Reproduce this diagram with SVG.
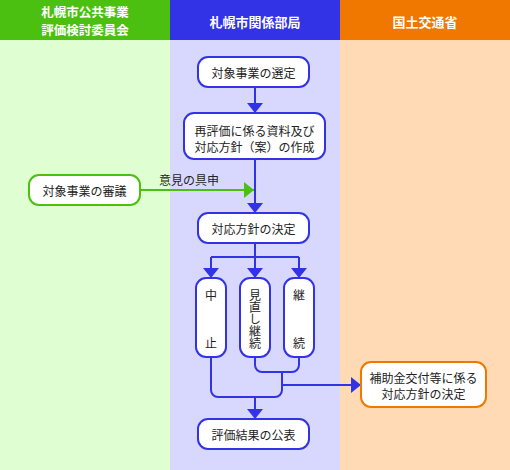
<svg xmlns="http://www.w3.org/2000/svg" width="510" height="470" viewBox="0 0 510 470">
<style>
text{font-family:"Noto Sans CJK JP","Noto Sans",sans-serif;font-size:12px;fill:#222;text-anchor:middle;dominant-baseline:central}
.hd{fill:#fff;font-size:13px;font-weight:bold}
.h2{font-size:12.5px}
.vt{writing-mode:vertical-rl;text-anchor:start}
.sp{letter-spacing:36px}
.bb{fill:#fff;stroke:#3232e6;stroke-width:2}
.gb{fill:#fff;stroke:#4cc010;stroke-width:2}
.ob{fill:#fff;stroke:#f07800;stroke-width:2}
.bl{fill:none;stroke:#3232e6;stroke-width:2}
.gl{fill:none;stroke:#4cc010;stroke-width:2}
</style>
<defs>
<marker id="ab" markerUnits="userSpaceOnUse" markerWidth="10" markerHeight="16" refX="10" refY="8" orient="auto"><path d="M0,0 L10,8 L0,16 z" fill="#3232e6"/></marker>
<marker id="ag" markerUnits="userSpaceOnUse" markerWidth="10" markerHeight="16" refX="10" refY="8" orient="auto"><path d="M0,0 L10,8 L0,16 z" fill="#4cc010"/></marker>
</defs>
<g id="lanes">
<rect x="0" y="40" width="170" height="430" fill="#dfffd2"/>
<rect x="170" y="40" width="170" height="430" fill="#d8d8ff"/>
<rect x="340" y="40" width="170" height="430" fill="#ffdab4"/>
<rect x="0" y="0" width="170" height="40" fill="#4cc010"/>
<rect x="170" y="0" width="170" height="40" fill="#3232e6"/>
<rect x="340" y="0" width="170" height="40" fill="#f07800"/>
<text class="hd h2" x="85" y="11">札幌市公共事業</text>
<text class="hd h2" x="85" y="29.3">評価検討委員会</text>
<text class="hd" x="255" y="21">札幌市関係部局</text>
<text class="hd" x="425" y="21">国土交通省</text>
</g>
<g id="connectors">
<path class="bl" d="M255,87 V113" marker-end="url(#ab)"/>
<path class="bl" d="M255,159 V213" marker-end="url(#ab)"/>
<path class="gl" d="M140,190 H254" marker-end="url(#ag)"/>
<text x="189" y="179">意見の具申</text>
<path class="bl" d="M255,243 V257 M211,257 H299"/>
<path class="bl" d="M211,257 V278" marker-end="url(#ab)"/>
<path class="bl" d="M255,257 V278" marker-end="url(#ab)"/>
<path class="bl" d="M299,257 V278" marker-end="url(#ab)"/>
<path class="bl" d="M211,357 V390 a7,7 0 0 0 7,7 H275 a7,7 0 0 0 7,-7 V372"/>
<path class="bl" d="M255,357 V365 a7,7 0 0 0 7,7 H292 a7,7 0 0 0 7,-7 V357"/>
<path class="bl" d="M282,385 H361" marker-end="url(#ab)"/>
<path class="bl" d="M255,397 V419" marker-end="url(#ab)"/>
</g>
<g id="n1"><rect class="bb" x="198" y="57" width="111" height="30" rx="10"/><text x="253.5" y="72">対象事業の選定</text></g>
<g id="n2"><rect class="bb" x="184" y="113" width="141" height="46" rx="10"/><text x="254.5" y="130"><tspan x="254.5" y="130">再評価に係る資料及び</tspan><tspan x="254.5" y="146">対応方針（案）の作成</tspan></text></g>
<g id="n3"><rect class="gb" x="29" y="175" width="111" height="30" rx="10"/><text x="84.5" y="190">対象事業の審議</text></g>
<g id="n4"><rect class="bb" x="198" y="213" width="111" height="30" rx="10"/><text x="253.5" y="228">対応方針の決定</text></g>
<g id="n5"><rect class="bb" x="196" y="278" width="30" height="79" rx="10"/><text class="vt sp" x="211" y="289">中止</text></g>
<g id="n6"><rect class="bb" x="240" y="278" width="30" height="79" rx="10"/><text class="vt" x="255" y="289">見直し継続</text></g>
<g id="n7"><rect class="bb" x="284" y="278" width="30" height="79" rx="10"/><text class="vt sp" x="299" y="289">継続</text></g>
<g id="n8"><rect class="ob" x="361" y="362" width="125" height="45" rx="10"/><text x="423.5" y="377"><tspan x="423.5" y="377">補助金交付等に係る</tspan><tspan x="423.5" y="393">対応方針の決定</tspan></text></g>
<g id="n9"><rect class="bb" x="198" y="419" width="111" height="30" rx="10"/><text x="253.5" y="434">評価結果の公表</text></g>
</svg>
